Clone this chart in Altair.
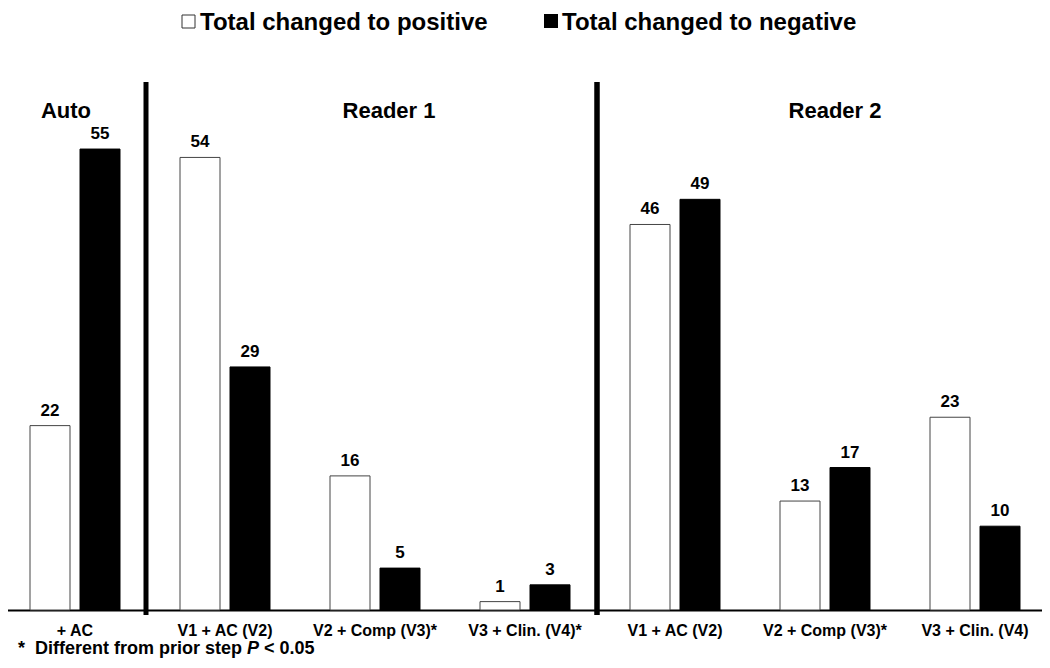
import altair as alt
import pandas as pd

# ---- data ----
categories = ["+ AC", "V1 + AC (V2)", "V2 + Comp (V3)*", "V3 + Clin. (V4)*",
              "V1 + AC (V2)", "V2 + Comp (V3)*", "V3 + Clin. (V4)"]
positive = [22, 54, 16, 1, 46, 13, 23]
negative = [55, 29, 5, 3, 49, 17, 10]
series_names = ["Total changed to positive", "Total changed to negative"]
group_titles = ["Auto", "Reader 1", "Reader 2"]
footnote = ["*", "Different from prior step", "P", "< 0.05"]

keys = [f"{i}|{c}" for i, c in enumerate(categories)]
rows = []
for k, p, n in zip(keys, positive, negative):
    rows.append({"cat": k, "series": "pos", "value": p})
    rows.append({"cat": k, "series": "neg", "value": n})
df = pd.DataFrame(rows)

FONT = "Liberation Sans"

x_enc = alt.X("cat:N", sort=keys,
              scale=alt.Scale(paddingInner=0, paddingOuter=0),
              axis=alt.Axis(title=None, labelAngle=0, ticks=False, tickSize=0,
                            labelPadding=12, labelFontSize=16, labelFontWeight="bold",
                            labelColor="black", labelFont=FONT,
                            labelExpr="split(datum.value, '|')[1]",
                            domainColor="black", domainWidth=2, grid=False))
xo_enc = alt.XOffset("series:N", sort=["pos", "neg"],
                     scale=alt.Scale(paddingInner=0.2, paddingOuter=0.6))
y_enc = alt.Y("value:Q", axis=None, scale=alt.Scale(domain=[0, 63]))

base = alt.Chart(df)
bars = base.mark_bar(strokeWidth=1).encode(
    x=x_enc, xOffset=xo_enc, y=y_enc,
    color=alt.Color("series:N", scale=alt.Scale(domain=["pos", "neg"], range=["white", "black"]), legend=None),
    stroke=alt.Stroke("series:N", scale=alt.Scale(domain=["pos", "neg"], range=["#444444", "black"]), legend=None),
)
labels = base.mark_text(dy=-10, fontSize=17, fontWeight="bold", font=FONT, color="black",
                        baseline="alphabetic").encode(
    x=x_enc, xOffset=xo_enc, y=y_enc, text="value:Q")

# group dividers
div1 = alt.Chart(pd.DataFrame({"a": [0]})).mark_rule(color="black", strokeWidth=5).encode(
    x=alt.value(146), y=alt.value(0), y2=alt.value(533))
div2 = alt.Chart(pd.DataFrame({"a": [0]})).mark_rule(color="black", strokeWidth=5.5).encode(
    x=alt.value(597), y=alt.value(0), y2=alt.value(533))

def txt(t, x, y, size, align="left", style="normal"):
    return alt.Chart(pd.DataFrame({"t": [t]})).mark_text(
        fontSize=size, fontWeight="bold", font=FONT, color="black", align=align,
        baseline="alphabetic", fontStyle=style).encode(
        x=alt.value(x), y=alt.value(y), text="t:N")

titles = [txt(group_titles[0], 66, 36, 22, "center"),
          txt(group_titles[1], 389, 36, 22, "center"),
          txt(group_titles[2], 835, 36, 22, "center")]

# legend
sq_w = alt.Chart(pd.DataFrame({"a": [0]})).mark_rect(fill="white", stroke="#333333", strokeWidth=1).encode(
    x=alt.value(182), x2=alt.value(195), y=alt.value(-67), y2=alt.value(-54))
sq_b = alt.Chart(pd.DataFrame({"a": [0]})).mark_rect(fill="black").encode(
    x=alt.value(544), x2=alt.value(558), y=alt.value(-68), y2=alt.value(-54))
leg_t = [txt(series_names[0], 200, -52, 24), txt(series_names[1], 562, -52, 24)]

# footnote
foot = [txt(footnote[0], 18, 572, 18), txt(footnote[1], 35, 572, 18),
        txt(footnote[2], 247, 572, 18, style="italic"), txt(footnote[3], 264, 572, 18)]

chart = alt.layer(bars, labels, div1, div2, sq_w, sq_b, *titles, *leg_t, *foot).properties(
    width=1050, height=528,
    autosize=alt.AutoSizeParams(type="none"),
    padding={"left": -8, "right": -8, "top": 74, "bottom": 50},
).configure(font=FONT).configure_view(stroke=None)

chart.save("out.html", embed_options={"renderer": "svg", "actions": False})
